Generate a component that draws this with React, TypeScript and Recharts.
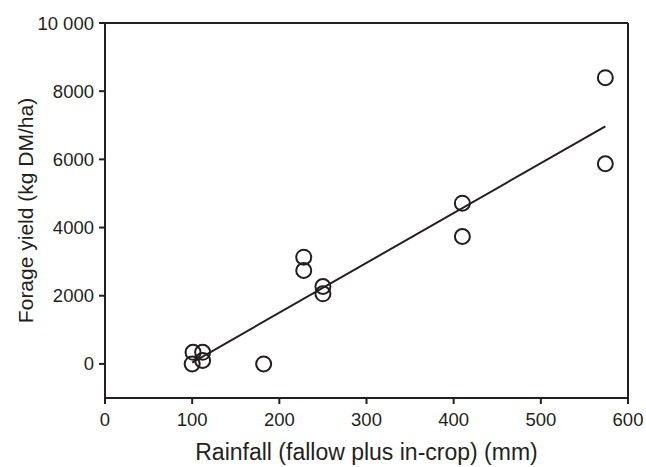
import { ComposedChart, Scatter, Line, XAxis, YAxis, ReferenceLine } from 'recharts'

const rainfall = [100, 101, 112, 112, 182, 228, 228, 250, 250, 410, 410, 574, 574]
const forageYield = [0, 340, 340, 100, 0, 3130, 2740, 2270, 2055, 4715, 3737, 8397, 5872]

const fitRainfall = [100, 574]
const fitYield = [40, 6970]

const xTicks = [0, 100, 200, 300, 400, 500, 600]
const yTicks = [0, 2000, 4000, 6000, 8000, 10000]

const points = rainfall.map((x, i) => ({ x, y: forageYield[i] }))
const fit = fitRainfall.map((x, i) => ({ x, fy: fitYield[i] }))

const INK = '#231f20'
const FONT = '"Liberation Sans", Arial, sans-serif'

const fmtY = (v: number) => (v === 10000 ? '10 000' : String(v))

const Ring = (props: any) => {
  const { cx, cy } = props
  if (cx == null || cy == null) return null
  return <circle cx={cx} cy={cy} r={7.5} fill="none" stroke={INK} strokeWidth={2} />
}

export default function App() {
  return (
    <div style={{ position: 'absolute', left: 0, top: 0, background: '#fff' }}>
      <ComposedChart
        width={646}
        height={467}
        margin={{ top: 23, right: 18, left: 0, bottom: 0 }}
        style={{ fontFamily: FONT }}
      >
        <XAxis
          type="number"
          dataKey="x"
          domain={[0, 600]}
          ticks={xTicks}
          allowDataOverflow
          height={69}
          axisLine={{ stroke: INK, strokeWidth: 2 }}
          tickLine={{ stroke: INK, strokeWidth: 2 }}
          tickSize={6}
          tickMargin={9}
          tick={{ fill: INK, fontSize: 18.5 }}
          label={{
            value: 'Rainfall (fallow plus in-crop) (mm)',
            position: 'insideBottom',
            offset: 7,
            fill: INK,
            fontSize: 23,
          }}
        />
        <YAxis
          type="number"
          domain={[-1000, 10000]}
          ticks={yTicks}
          allowDataOverflow
          width={105}
          tickFormatter={fmtY}
          axisLine={{ stroke: INK, strokeWidth: 2 }}
          tickLine={{ stroke: INK, strokeWidth: 2 }}
          tickSize={6}
          tickMargin={5}
          tick={{ fill: INK, fontSize: 18.5 }}
          label={{
            value: 'Forage yield (kg DM/ha)',
            angle: -90,
            position: 'insideLeft',
            offset: 26,
            style: { textAnchor: 'middle' },
            fill: INK,
            fontSize: 21,
          }}
        />
        <ReferenceLine y={10000} stroke={INK} strokeWidth={2} />
        <ReferenceLine x={600} stroke={INK} strokeWidth={2} />
        <Line
          data={fit}
          dataKey="fy"
          type="linear"
          stroke={INK}
          strokeWidth={2}
          dot={false}
          activeDot={false}
          isAnimationActive={false}
        />
        <Scatter data={points} dataKey="y" shape={<Ring />} isAnimationActive={false} />
      </ComposedChart>
    </div>
  )
}
